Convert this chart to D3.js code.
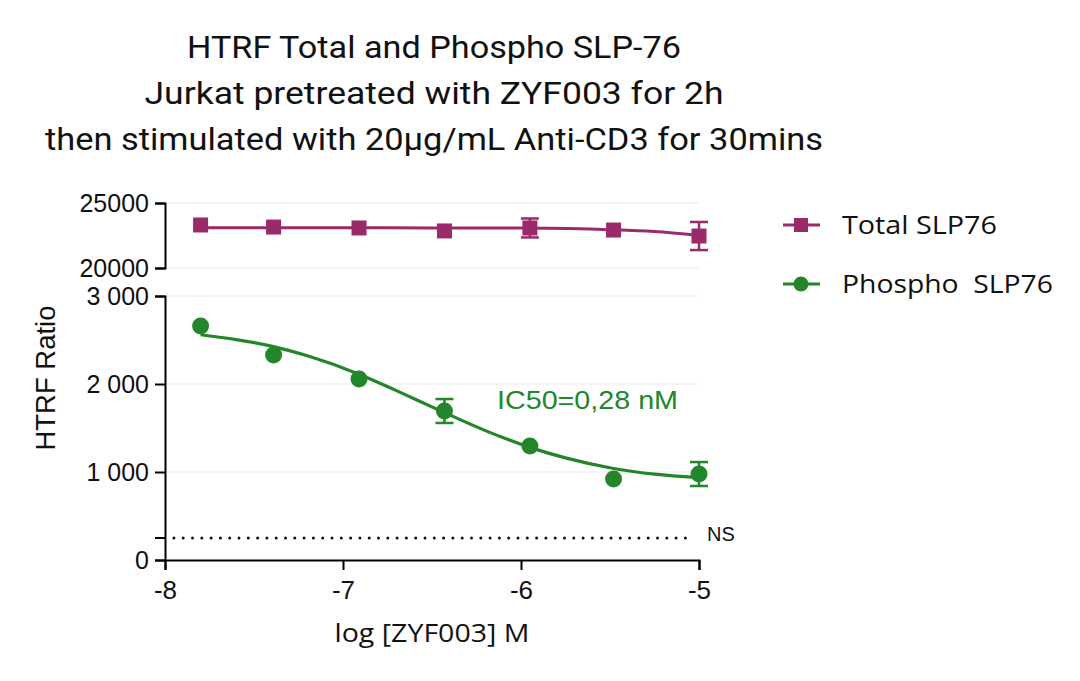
<!DOCTYPE html>
<html><head><meta charset="utf-8">
<script src="https://cdn.jsdelivr.net/npm/d3@7"></script>
<style>body{margin:0;background:#fff}</style>
</head><body>
<svg id="c" width="1080" height="681"></svg>
<script>
// ---- data ----
const titleLines = ["HTRF Total and Phospho SLP-76","Jurkat pretreated with ZYF003 for 2h","then stimulated with 20µg/mL Anti-CD3 for 30mins"];
const logConc = [-7.80, -7.39, -6.91, -6.43, -5.95, -5.48, -5.00];
const totalVals = [23310, 23150, 23080, 22850, 23080, 22920, 22460];
const totalErr  = [0, 0, 0, 0, 730, 0, 1080];
const phosphoVals = [2660, 2330, 2057, 1693, 1295, 920, 977];
const phosphoErr  = [0, 0, 0, 136, 0, 0, 136];
const totalCurveX = [-7.80, -7.0, -6.5, -6.0, -5.5, -5.25, -5.0];
const totalCurveY = [23100, 23090, 23085, 23070, 22950, 22800, 22500];
const phosphoCurveX = [-7.80, -7.6, -7.39, -7.2, -6.91, -6.7, -6.43, -6.2, -5.95, -5.75, -5.48, -5.25, -5.0];
const phosphoCurveY = [2560, 2505, 2425, 2320, 2112, 1925, 1675, 1470, 1280, 1160, 1040, 975, 935];
const nsLevel = 250;
const xTicks = [-8, -7, -6, -5];
const yLowTicks = [0, 1000, 2000, 3000];
const yHighTicks = [20000, 25000];
const ic50Label = "IC50=0,28 nM";
const seriesNames = ["Total SLP76", "Phospho  SLP76"];
const colTotal = "#9b2a6b", colPhos = "#23862a";

const svg = d3.select("#c");
const x = d3.scaleLinear().domain([-8, -5]).range([165, 699]);
const yL = d3.scaleLinear().domain([0, 3000]).range([560, 296]);
const yH = d3.scaleLinear().domain([20000, 25000]).range([268, 203]);

// title
svg.append("g").selectAll("text").data(titleLines).join("text")
  .attr("x", 434).attr("y", (d,i)=>58+i*46)
  .attr("text-anchor","middle").attr("font-family","Roboto").attr("font-size",32)
  .attr("fill","#111").attr("textLength",(d,i)=>[494,579,778][i]).attr("lengthAdjust","spacingAndGlyphs")
  .text(d=>d);

// grid
const grid = svg.append("g").attr("stroke","#ececec").attr("stroke-width",1.2);
yLowTicks.filter(d=>d>0).forEach(v=>grid.append("line").attr("x1",x(-8)).attr("x2",x(-5)).attr("y1",yL(v)).attr("y2",yL(v)));
yHighTicks.forEach(v=>grid.append("line").attr("x1",x(-8)).attr("x2",x(-5)).attr("y1",yH(v)).attr("y2",yH(v)));

// axes
const fmtSpace = v => v===0 ? "0" : d3.format(",")(v).replace(/,/g," ");
const axX = svg.append("g").attr("transform",`translate(0,${yL(0)})`)
  .call(d3.axisBottom(x).tickValues(xTicks).tickSize(10).tickPadding(6).tickFormat(v=>String(v)));
const axL = svg.append("g").attr("transform",`translate(${x(-8)},0)`)
  .call(d3.axisLeft(yL).tickValues(yLowTicks).tickSize(10).tickPadding(6).tickFormat(fmtSpace));
const axH = svg.append("g").attr("transform",`translate(${x(-8)},0)`)
  .call(d3.axisLeft(yH).tickValues(yHighTicks).tickSize(10).tickPadding(6).tickFormat(v=>String(v)));
[axX, axL, axH].forEach(a=>{
  a.select(".domain").attr("stroke","#000").attr("stroke-width",2);
  a.selectAll(".tick line").attr("stroke","#000").attr("stroke-width",2);
  a.selectAll("text").attr("font-family","Liberation Sans").attr("font-size",25).attr("fill","#111");
});
axX.selectAll("text").attr("font-size",26).attr("dy","0.9em");
// small tick at NS level
svg.append("line").attr("x1",x(-8)-10).attr("x2",x(-8)).attr("y1",yL(nsLevel)).attr("y2",yL(nsLevel)).attr("stroke","#000").attr("stroke-width",2);

// NS line
svg.append("line").attr("x1",x(-7.95)).attr("x2",x(-5.03)).attr("y1",yL(nsLevel)).attr("y2",yL(nsLevel))
  .attr("stroke","#111").attr("stroke-width",3).attr("stroke-dasharray","0 9.3").attr("stroke-linecap","round");
svg.append("text").attr("x",707).attr("y",541).attr("font-family","Liberation Sans").attr("font-size",20)
  .attr("fill","#111").text("NS");

// axis titles
svg.append("text").attr("transform","translate(55,378) rotate(-90)").attr("text-anchor","middle")
  .attr("font-family","Liberation Sans").attr("font-size",27).attr("fill","#111")
  .attr("textLength",145).attr("lengthAdjust","spacingAndGlyphs").text("HTRF Ratio");
svg.append("text").attr("x",432).attr("y",642).attr("text-anchor","middle")
  .attr("font-family","Open Sans").attr("font-size",26).attr("fill","#111")
  .attr("textLength",195).attr("lengthAdjust","spacingAndGlyphs").text("log [ZYF003] M");

// curves
const lineGen = (ys) => d3.line().x(d=>x(d[0])).y(d=>ys(d[1])).curve(d3.curveMonotoneX);
svg.append("path").datum(totalCurveX.map((v,i)=>[v,totalCurveY[i]]))
  .attr("d", lineGen(yH)).attr("fill","none").attr("stroke",colTotal).attr("stroke-width",3);
svg.append("path").datum(phosphoCurveX.map((v,i)=>[v,phosphoCurveY[i]]))
  .attr("d", lineGen(yL)).attr("fill","none").attr("stroke",colPhos).attr("stroke-width",3.2);

// error bars
function errBars(vals, errs, ys, col){
  const g = svg.append("g").attr("stroke",col).attr("stroke-width",2.5);
  logConc.forEach((c,i)=>{
    if(!errs[i]) return;
    const cx = x(c), y1 = ys(vals[i]-errs[i]), y2 = ys(vals[i]+errs[i]);
    g.append("line").attr("x1",cx).attr("x2",cx).attr("y1",y1).attr("y2",y2);
    g.append("line").attr("x1",cx-9).attr("x2",cx+9).attr("y1",y1).attr("y2",y1);
    g.append("line").attr("x1",cx-9).attr("x2",cx+9).attr("y1",y2).attr("y2",y2);
  });
}
errBars(totalVals, totalErr, yH, colTotal);
errBars(phosphoVals, phosphoErr, yL, colPhos);

// markers
svg.append("g").selectAll("rect").data(logConc).join("rect")
  .attr("x",(d)=>x(d)-7.5).attr("y",(d,i)=>yH(totalVals[i])-7.5).attr("width",15).attr("height",15).attr("fill",colTotal);
svg.append("g").selectAll("circle").data(logConc).join("circle")
  .attr("cx",d=>x(d)).attr("cy",(d,i)=>yL(phosphoVals[i])).attr("r",8.5).attr("fill",colPhos);

// IC50 label
svg.append("text").attr("x",497).attr("y",409).attr("font-family","Liberation Sans").attr("font-size",25)
  .attr("fill",colPhos).attr("textLength",181).attr("lengthAdjust","spacingAndGlyphs").text(ic50Label);

// legend
const leg = svg.append("g");
[[colTotal,"sq"],[colPhos,"ci"]].forEach((s,i)=>{
  const cy = 225 + i*59;
  leg.append("line").attr("x1",783).attr("x2",820).attr("y1",cy).attr("y2",cy).attr("stroke",s[0]).attr("stroke-width",3);
  if(s[1]==="sq") leg.append("rect").attr("x",794).attr("y",cy-7).attr("width",14).attr("height",14).attr("fill",s[0]);
  else leg.append("circle").attr("cx",801).attr("cy",cy).attr("r",7.5).attr("fill",s[0]);
  leg.append("text").attr("x",842).attr("y",cy+9).attr("font-family","Open Sans")
    .attr("font-size",26).attr("fill","#111").style("white-space","pre")
    .attr("textLength",[155,211][i]).attr("lengthAdjust","spacingAndGlyphs").text(seriesNames[i]);
});
</script>
</body></html>
